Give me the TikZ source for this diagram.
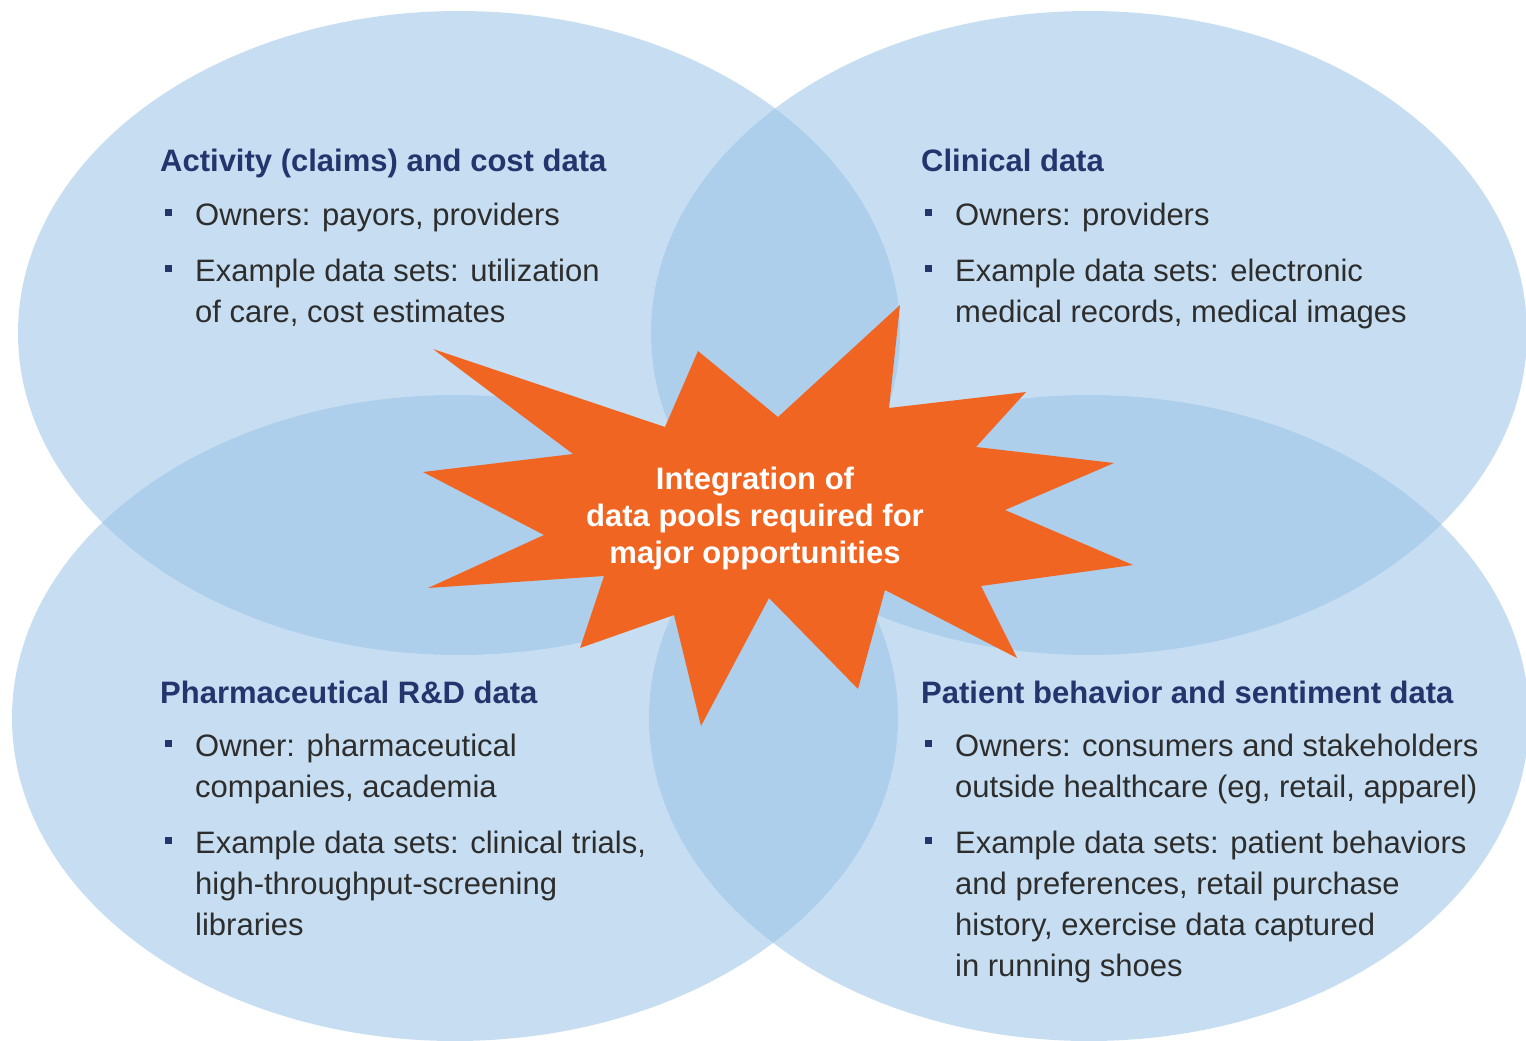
\documentclass[tikz,border=0pt]{standalone}
\usepackage{fontspec}
\setmainfont{Liberation Sans}
\usepackage{tikz}
\usetikzlibrary{positioning}
\definecolor{poolblue}{RGB}{153, 195, 231}
\definecolor{hubred}{RGB}{241, 101, 34}
\definecolor{poolnavy}{RGB}{36, 52, 108}
\definecolor{poolgray}{RGB}{45, 45, 45}
\tikzset{
    poolfill/.style={fill=poolblue, fill opacity=0.55},
    pooltitle/.style={anchor=base west, inner sep=0pt, text=poolnavy, font=\fontsize{31}{37}\selectfont\bfseries},
    poolitem/.style={anchor=north west, inner sep=0pt, align=left, text=poolgray, font=\fontsize{31}{41}\selectfont},
    poolbullet/.style={fill=poolnavy, inner sep=0pt, minimum size=7.5pt},
    hubtext/.style={align=center, inner sep=0pt, text=white, font=\fontsize{31}{37}\selectfont\bfseries}
}

\begin{document}
\begin{tikzpicture}[x=1pt, y=-1pt]
                \useasboundingbox (0,0) rectangle (1526,1041);

                % The four data pools
                \fill[poolfill] (459,333) ellipse [x radius=441pt, y radius=322pt];
                \fill[poolfill] (1089,333) ellipse [x radius=438pt, y radius=322pt];
                \fill[poolfill] (455,718) ellipse [x radius=443pt, y radius=323pt];
                \fill[poolfill] (1089,718) ellipse [x radius=440pt, y radius=323pt];

                % The burst in the middle
                \fill[hubred] (433,349) -- (665,427) -- (698,351) -- (778,417) -- (900,305) -- (889,408)
                    -- (1026,392) -- (976,447) -- (1114,463) -- (1005,510) -- (1133,565) -- (981,586)
                    -- (1017,658) -- (885,590) -- (858,689) -- (769,598) -- (701,726) -- (674,615)
                    -- (580,648) -- (604,576) -- (428,588) -- (544,535) -- (423,472) -- (573,454) -- cycle;
                \node[hubtext] (hub) at (755,518) {Integration of\\data pools required for\\major opportunities};

                % Activity and cost pool
                \node[pooltitle] (ac) at (160,171) {Activity (claims) and cost data};
                \node[poolitem] (ac1) at (195,202.5) {Owners: payors, providers};
                \node[poolitem] (ac2) at (195,258.5) {Example data sets: utilization\\of care, cost estimates};

                % Clinical pool
                \node[pooltitle] (cl) at (921,171) {Clinical data};
                \node[poolitem] (cl1) at (955,202.5) {Owners: providers};
                \node[poolitem] (cl2) at (955,258.5) {Example data sets: electronic\\medical records, medical images};

                % Pharmaceutical pool
                \node[pooltitle] (ph) at (160,703) {Pharmaceutical R\&D data};
                \node[poolitem] (ph1) at (195,733.5) {Owner: pharmaceutical\\companies, academia};
                \node[poolitem] (ph2) at (195,830.5) {Example data sets: clinical trials,\\high-throughput-screening\\libraries};

                % Patient behavior pool
                \node[pooltitle] (pb) at (921,703) {Patient behavior and sentiment data};
                \node[poolitem] (pb1) at (955,733.5) {Owners: consumers and stakeholders\\outside healthcare (eg, retail, apparel)};
                \node[poolitem] (pb2) at (955,830.5) {Example data sets: patient behaviors\\and preferences, retail purchase\\history, exercise data captured\\in running shoes};

                % Square bullets
                \foreach \it in {ac1, ac2, cl1, cl2, ph1, ph2, pb1, pb2}
                    \node[poolbullet] at ([xshift=-26.5pt, yshift=-10pt]\it.north west) {};
            \end{tikzpicture}
\end{document}
